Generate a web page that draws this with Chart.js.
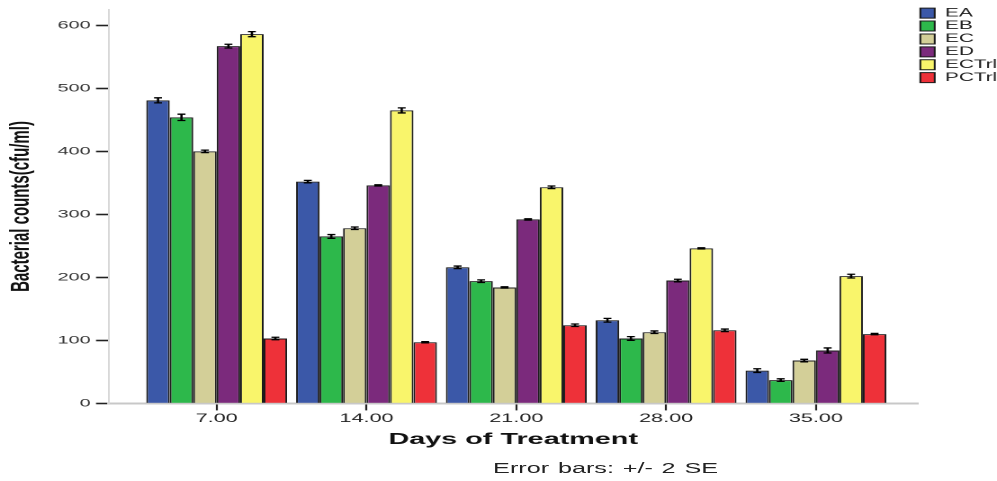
<!DOCTYPE html>
<html>
<head>
<meta charset="utf-8">
<script src="https://cdn.jsdelivr.net/npm/chart.js@4.4.1/dist/chart.umd.min.js"></script>
<style>
    body { margin: 0; background: #fff; overflow: hidden; }
    /* the original figure is stretched sideways, so the chart is drawn narrow and widened */
    #wrapper {
        position: relative; width: 554px; height: 481px;
        transform: scaleX(1.7996); transform-origin: 0 0;
    }
    #errNote {
        position: absolute; left: 274px; top: 460px; line-height: 16px;
        font-family: "Liberation Sans", Arial, sans-serif; font-size: 14px; color: #222;
        word-spacing: 1px; white-space: nowrap;
    }
</style>
</head>
<body>
<div id="wrapper">
    <canvas id="bars"></canvas>
    <div id="errNote">Error bars: +/- 2 SE</div>
</div>
<script>
// days on the x axis
const days = [7, 14, 21, 28, 35];
const groupNames = ["EA", "EB", "EC", "ED", "ECTrl", "PCTrl"];

// mean counts per group (one value per day)
const EA    = [481, 352, 216, 132, 52];
const EB    = [454, 265, 194, 103, 37];
const EC    = [400, 278, 184, 113, 68];
const ED    = [567, 346, 292, 195, 84];
const ECTrl = [586, 465, 343, 246, 202];
const PCTrl = [103, 97, 124, 116, 110];

// half length of the error bars (2 SE)
const errEA    = [4, 2, 2, 3, 3];
const errEB    = [5, 3, 2, 3, 2];
const errEC    = [2, 2, 1, 2, 2];
const errED    = [3, 1, 1, 2, 4];
const errECTrl = [4, 4, 2, 1, 3];
const errPCTrl = [2, 1, 2, 2, 1];

const yTicks = [0, 100, 200, 300, 400, 500, 600];

function mainInit() {
    var values = [EA, EB, EC, ED, ECTrl, PCTrl];
    var errors = [errEA, errEB, errEC, errED, errECTrl, errPCTrl];
    var colors = ["#3b58a8", "#2db84b", "#d3cf98", "#7b2a7c", "#f9f56b", "#ee3139"];

    var datasets = [];
    for (let i = 0; i < groupNames.length; i++) {
        datasets.push({
            label: groupNames[i],
            data: days.map((d, j) => ({ x: d, y: values[i][j] })),
            errors: errors[i],
            backgroundColor: colors[i],
            borderColor: "#1a1a1a",
            borderWidth: 1,
            categoryPercentage: 0.94,
            barPercentage: 1.0
        });
    }

    // draws the +/- 2 SE whiskers on top of each bar
    const errorBars = {
        id: "errorBars",
        afterDatasetsDraw(chart) {
            const ctx = chart.ctx;
            const y = chart.scales.y;
            ctx.save();
            ctx.strokeStyle = "#000";
            ctx.lineWidth = 1.3;
            chart.data.datasets.forEach((ds, i) => {
                const meta = chart.getDatasetMeta(i);
                meta.data.forEach((bar, j) => {
                    const v = ds.data[j].y;
                    const e = ds.errors[j];
                    const top = y.getPixelForValue(v + e);
                    const bottom = y.getPixelForValue(v - e);
                    ctx.beginPath();
                    ctx.moveTo(bar.x, top);
                    ctx.lineTo(bar.x, bottom);
                    ctx.moveTo(bar.x - 2.2, top);
                    ctx.lineTo(bar.x + 2.2, top);
                    ctx.moveTo(bar.x - 2.2, bottom);
                    ctx.lineTo(bar.x + 2.2, bottom);
                    ctx.stroke();
                });
            });
            ctx.restore();
        }
    };

    const canvas = document.getElementById("bars");
    canvas.width = 554;
    canvas.height = 481;

    barChart = new Chart(canvas, {
        type: "bar",
        data: { datasets: datasets },
        plugins: [errorBars],
        options: {
            responsive: false,
            animation: false,
            devicePixelRatio: 2,
            layout: { padding: { top: 0, left: 3, bottom: 32, right: 0 } },
            scales: {
                x: {
                    type: "linear",
                    offset: false,
                    min: 1.95,
                    max: 39.76,
                    afterBuildTicks: (scale) => { scale.ticks = days.map(d => ({ value: d })); },
                    ticks: {
                        color: "#222",
                        font: { family: "Liberation Sans", size: 12 },
                        padding: 1,
                        maxRotation: 0,
                        callback: (v) => v.toFixed(2)
                    },
                    grid: { offset: false, drawOnChartArea: false, tickLength: 7, tickColor: "#222", tickWidth: 1.1 },
                    border: { color: "#c8c8c8", width: 2 },
                    title: {
                        display: true,
                        text: "Days of Treatment",
                        color: "#111",
                        font: { family: "Liberation Sans", size: 16, weight: "bold" },
                        padding: { top: 3, bottom: 0 }
                    }
                },
                y: {
                    min: 0,
                    max: 625,
                    afterBuildTicks: (scale) => { scale.ticks = yTicks.map(v => ({ value: v })); },
                    ticks: {
                        color: "#333",
                        font: { family: "Liberation Sans", size: 11 },
                        padding: 3
                    },
                    grid: { drawOnChartArea: false, tickLength: 7, tickColor: "#222", tickWidth: 1.6 },
                    border: { color: "#d8d8d8", width: 1 },
                    title: {
                        display: true,
                        text: "Bacterial counts(cfu/ml)",
                        color: "#111",
                        font: { family: "Liberation Sans", size: 15, weight: "bold" },
                        padding: { top: 0, bottom: 8 }
                    }
                }
            },
            plugins: {
                legend: {
                    position: "right",
                    align: "start",
                    maxWidth: 44,
                    title: { display: true, text: " ", font: { size: 5 }, padding: 0 },
                    labels: {
                        boxWidth: 8,
                        boxHeight: 10,
                        padding: 1.4,
                        color: "#222",
                        font: { family: "Liberation Sans", size: 11.5 }
                    }
                },
                tooltip: { enabled: false }
            }
        }
    });
}

mainInit();
</script>
</body>
</html>
